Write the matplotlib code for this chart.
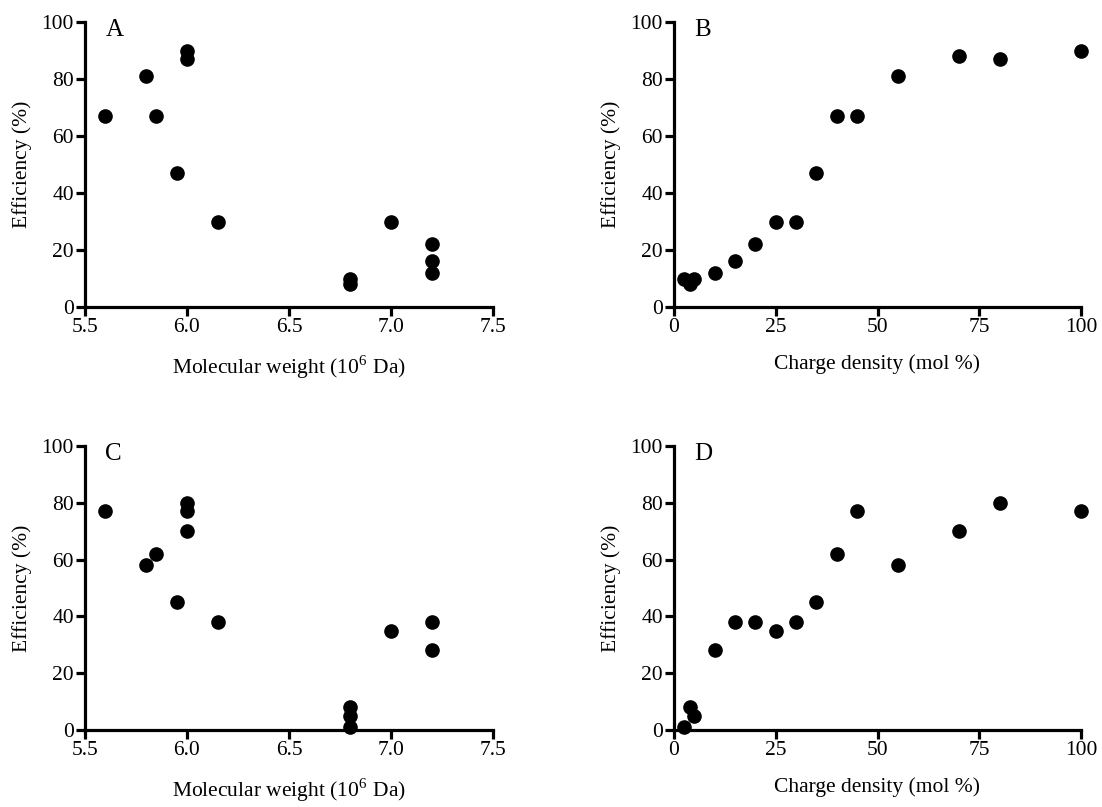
import matplotlib
matplotlib.use("Agg")
import matplotlib.pyplot as plt

plt.rcParams['font.family'] = ['Liberation Serif', 'DejaVu Serif']
plt.rcParams['mathtext.fontset'] = 'stix'

# Panel A: efficiency vs molecular weight
mw_a = [5.6, 5.8, 5.85, 5.95, 6.0, 6.0, 6.15, 6.8, 6.8, 7.0, 7.2, 7.2, 7.2]
eff_a = [67, 81, 67, 47, 90, 87, 30, 10, 8, 30, 22, 16, 12]

# Panel B: efficiency vs charge density
cd_b = [2.5, 4, 5, 10, 15, 20, 25, 30, 35, 40, 45, 55, 70, 80, 100]
eff_b = [10, 8, 10, 12, 16, 22, 30, 30, 47, 67, 67, 81, 88, 87, 90]

# Panel C: efficiency vs molecular weight
mw_c = [5.6, 5.8, 5.85, 5.95, 6.0, 6.0, 6.0, 6.15, 6.8, 6.8, 6.8, 7.0, 7.2, 7.2]
eff_c = [77, 58, 62, 45, 80, 77, 70, 38, 8, 5, 1, 35, 38, 28]

# Panel D: efficiency vs charge density
cd_d = [2.5, 4, 5, 10, 15, 20, 25, 30, 35, 40, 45, 55, 70, 80, 100]
eff_d = [1, 8, 5, 28, 38, 38, 35, 38, 45, 62, 77, 58, 70, 80, 77]

mw_ticks = [5.5, 6.0, 6.5, 7.0, 7.5]
mw_ticklabels = ["5.5", "6.0", "6.5", "7.0", "7.5"]
cd_ticks = [0, 25, 50, 75, 100]
eff_ticks = [0, 20, 40, 60, 80, 100]

mw_label = r"Molecular weight (10$^{\mathregular{6}}$ Da)"
cd_label = "Charge density (mol %)"
eff_label = "Efficiency (%)"

W, H = 1102, 807
fig = plt.figure(figsize=(W / 100, H / 100), dpi=100)


def make_axes(x0, x1, ytop, ybot):
    return fig.add_axes([x0 / W, (H - ybot) / H, (x1 - x0) / W, (ybot - ytop) / H])


panels = [
    (make_axes(85, 493, 22, 307), mw_a, eff_a, "mw", "A"),
    (make_axes(674, 1081, 22, 307), cd_b, eff_b, "cd", "B"),
    (make_axes(85, 493, 446, 730), mw_c, eff_c, "mw", "C"),
    (make_axes(674, 1081, 446, 730), cd_d, eff_d, "cd", "D"),
]

for ax, xs, ys, kind, letter in panels:
    ax.plot(xs, ys, linestyle="none", marker="o", markersize=9.5,
            color="black", clip_on=False, zorder=3)
    if kind == "mw":
        ax.set_xlim(5.5, 7.5)
        ax.set_xticks(mw_ticks)
        ax.set_xticklabels(mw_ticklabels)
        ax.set_xlabel(mw_label, fontsize=15.5, labelpad=12)
    else:
        ax.set_xlim(0, 100)
        ax.set_xticks(cd_ticks)
        ax.set_xlabel(cd_label, fontsize=15.5, labelpad=12)
    ax.set_ylim(0, 100)
    ax.set_yticks(eff_ticks)
    ax.set_ylabel(eff_label, fontsize=15.5, labelpad=7)
    for side in ("top", "right"):
        ax.spines[side].set_visible(False)
    for side in ("left", "bottom"):
        ax.spines[side].set_linewidth(2.3)
    ax.tick_params(axis="both", direction="out", length=6.5, width=2.3,
                   labelsize=15.5, pad=1.5)
    ax.text(0.05, 1.01, letter, transform=ax.transAxes, fontsize=18,
            ha="left", va="top")

fig.savefig("out.png", dpi=100)
